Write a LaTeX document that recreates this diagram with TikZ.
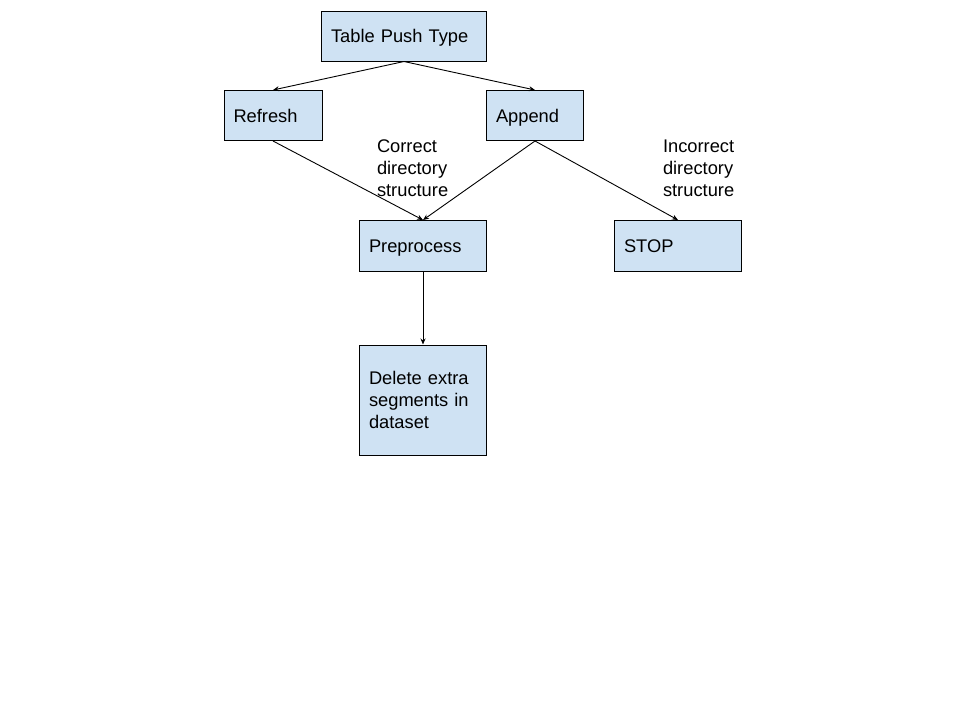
\documentclass[tikz,border=0pt]{standalone}
\usepackage{fontspec}
\setmainfont{Liberation Sans}
\usetikzlibrary{arrows.meta}
\definecolor{boxblue}{HTML}{CFE2F3}
\newcommand\myhi{\rule{0pt}{17pt}}
\newcommand\mylo{\rule[-4pt]{0pt}{4pt}}
\tikzset{
  box/.style={draw=black, line width=1pt, fill=boxblue, rectangle, inner xsep=9.5pt, inner ysep=0pt,
    align=left, font=\fontsize{18.3}{22}\selectfont},
  one/.style={text height=17pt, text depth=4pt},
  lbl/.style={inner sep=0pt, align=left, anchor=center, font=\fontsize{18.3}{22}\selectfont},
  conn/.style={line width=0.9pt, -{Stealth[length=6pt,width=5pt]}}
}
\begin{document}
\begin{tikzpicture}[x=1pt,y=-1pt]
\useasboundingbox (0,0) rectangle (960,720);
\node[box, one, minimum width=165pt, minimum height=50pt, text width=146pt] (table) at (404,36) {Table Push Type};
\node[box, one, minimum width=98pt, minimum height=50pt, text width=79pt] (refresh) at (273,115.5) {Refresh};
\node[box, one, minimum width=97pt, minimum height=50pt, text width=78pt] (append) at (535,115.5) {Append};
\node[box, one, minimum width=127pt, minimum height=51pt, text width=108pt] (pre) at (423,246) {Preprocess};
\node[box, one, minimum width=127pt, minimum height=51pt, text width=108pt] (stop) at (678,246) {STOP};
\node[box, minimum width=127pt, minimum height=110pt, text width=108pt] (del) at (423,400) {\myhi Delete extra\\segments in\\dataset\mylo};
\node[lbl, text width=100pt] (corr) at (427,168) {\myhi Correct\\directory\\structure\mylo};
\node[lbl, text width=100pt] (incorr) at (713,168) {\myhi Incorrect\\directory\\structure\mylo};
\draw[conn] (table.south) -- (refresh.north);
\draw[conn] (table.south) -- (append.north);
\draw[conn] (refresh.south) -- (pre.north);
\draw[conn] (append.south) -- (pre.north);
\draw[conn] (append.south) -- (stop.north);
\draw[conn] (pre.south) -- (del.north);
\end{tikzpicture}
\end{document}
